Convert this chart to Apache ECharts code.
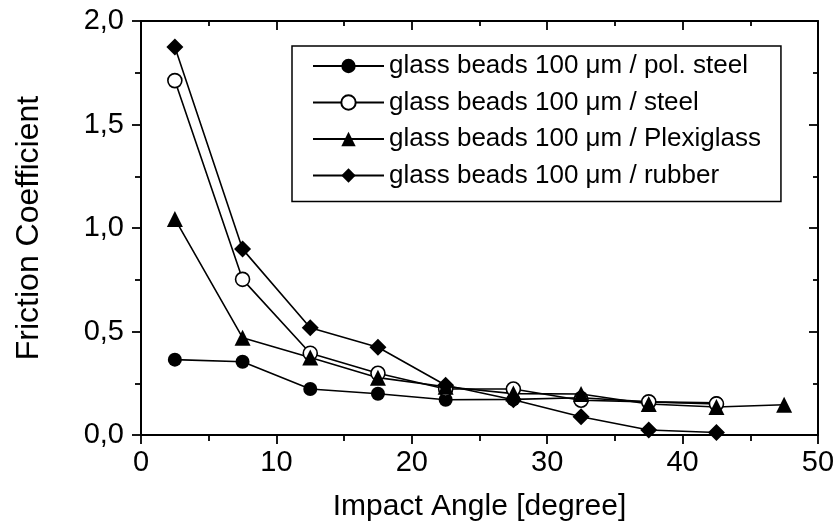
<!DOCTYPE html>
<html>
<head>
<meta charset="utf-8">
<script src="https://cdn.jsdelivr.net/npm/echarts@6/dist/echarts.min.js"></script>
<style>html,body{margin:0;padding:0;background:#fff}#c{width:838px;height:529px}</style>
</head>
<body>
<div id="c"></div>
<script>
const angles = [2.5, 7.5, 12.5, 17.5, 22.5, 27.5, 32.5, 37.5, 42.5, 47.5];
const polSteel = [0.364, 0.354, 0.222, 0.199, 0.170, 0.172, 0.180, 0.160, 0.155];
const steel = [1.712, 0.752, 0.395, 0.298, 0.222, 0.222, 0.168, 0.160, 0.150];
const plexiglass = [1.044, 0.470, 0.374, 0.277, 0.233, 0.200, 0.198, 0.150, 0.135, 0.146];
const rubber = [1.874, 0.898, 0.518, 0.424, 0.240, 0.170, 0.088, 0.024, 0.012];
const seriesNames = [
  'glass beads 100 \u03bcm / pol. steel',
  'glass beads 100 \u03bcm / steel',
  'glass beads 100 \u03bcm / Plexiglass',
  'glass beads 100 \u03bcm / rubber'
];
const xTicks = {min: 0, max: 50, interval: 10};
const yTicks = {min: 0, max: 2, interval: 0.5};

function pairs(vals) { return vals.map((v, i) => [angles[i], v]); }

const font = 'Liberation Sans, Arial, sans-serif';
const chart = echarts.init(document.getElementById('c'));
const lineStyle = {color: '#000', width: 1.6};
const axisLineStyle = {color: '#000', width: 2};

function mkSeries(name, vals, symbol, size, fill) {
  return {
    name: name, type: 'line', data: pairs(vals),
    symbol: symbol, symbolSize: size,
    lineStyle: lineStyle,
    itemStyle: {color: fill, borderColor: '#000', borderWidth: fill === '#fff' ? 1.6 : 0},
    emphasis: {disabled: true},
    animation: false
  };
}

chart.setOption({
  animation: false,
  backgroundColor: '#fff',
  grid: {left: 141, right: 20, top: 21, bottom: 94, outerBoundsMode: 'none'},
  legend: {
    orient: 'vertical', left: 292, top: 46,
    padding: [7, 20, 13, 20],
    itemGap: 10.5, itemWidth: 71, itemHeight: 18,
    borderColor: '#000', borderWidth: 1.5,
    textStyle: {fontFamily: font, fontSize: 26, color: '#000'},
    data: seriesNames
  },
  xAxis: [{
    type: 'value', min: xTicks.min, max: xTicks.max, interval: xTicks.interval,
    name: 'Impact Angle [degree]', nameLocation: 'middle', nameGap: 57,
    nameTextStyle: {fontFamily: font, fontSize: 30, color: '#000'},
    axisLine: {show: true, onZero: false, lineStyle: axisLineStyle},
    axisTick: {show: true, inside: false, length: 9, lineStyle: {color: '#000', width: 1.8}},
    minorTick: {show: true, splitNumber: 2, length: 6, lineStyle: {color: '#000', width: 1.8}},
    axisLabel: {fontFamily: font, fontSize: 29, color: '#000', margin: 13},
    splitLine: {show: false}, minorSplitLine: {show: false}
  }, {
    type: 'value', position: 'top', min: xTicks.min, max: xTicks.max, interval: xTicks.interval,
    axisLine: {show: true, onZero: false, lineStyle: axisLineStyle},
    axisTick: {show: true, inside: true, length: 9, lineStyle: {color: '#000', width: 1.8}},
    minorTick: {show: true, splitNumber: 2, length: 5, lineStyle: {color: '#000', width: 1.8}},
    axisLabel: {show: false}, splitLine: {show: false}
  }],
  yAxis: [{
    type: 'value', min: yTicks.min, max: yTicks.max, interval: yTicks.interval,
    name: 'Friction Coefficient', nameLocation: 'middle', nameGap: 96,
    nameTextStyle: {fontFamily: font, fontSize: 32, color: '#000'},
    axisLine: {show: true, onZero: false, lineStyle: axisLineStyle},
    axisTick: {show: true, inside: false, length: 9, lineStyle: {color: '#000', width: 1.8}},
    minorTick: {show: true, splitNumber: 2, length: 6, lineStyle: {color: '#000', width: 1.8}},
    axisLabel: {fontFamily: font, fontSize: 29, color: '#000', margin: 17,
      formatter: v => v.toFixed(1).replace('.', ',')},
    splitLine: {show: false}, minorSplitLine: {show: false}
  }, {
    type: 'value', position: 'right', min: yTicks.min, max: yTicks.max, interval: yTicks.interval,
    axisLine: {show: true, onZero: false, lineStyle: axisLineStyle},
    axisTick: {show: true, inside: true, length: 9, lineStyle: {color: '#000', width: 1.8}},
    minorTick: {show: true, splitNumber: 2, length: 5, lineStyle: {color: '#000', width: 1.8}},
    axisLabel: {show: false}, splitLine: {show: false}
  }],
  series: [
    mkSeries(seriesNames[0], polSteel, 'circle', 14, '#000'),
    mkSeries(seriesNames[1], steel, 'circle', 14, '#fff'),
    mkSeries(seriesNames[2], plexiglass, 'triangle', 16, '#000'),
    mkSeries(seriesNames[3], rubber, 'diamond', 17, '#000')
  ]
});
</script>
</body>
</html>
